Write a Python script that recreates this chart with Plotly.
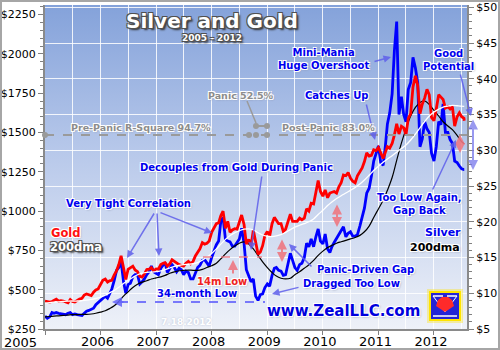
import base64
import plotly.graph_objects as go

# ---------------------------------------------------------------------------
# Data: semi-monthly closes (1st and 16th of each month), Jan 2005 - 7/18/2012
# ---------------------------------------------------------------------------
gold_2005 = [428, 424, 421, 425, 434, 440, 427, 430, 428, 421, 417, 437,
             425, 422, 432, 440, 445, 466, 473, 470, 462, 484, 498, 505]
gold_2006 = [530, 560, 568, 548, 556, 560, 594, 620, 660, 715, 640, 565,
             630, 640, 650, 625, 615, 585, 580, 600, 628, 630, 640, 620]
gold_2007 = [632, 630, 660, 668, 672, 650, 665, 690, 680, 665, 660, 655,
             650, 668, 680, 665, 680, 715, 740, 760, 800, 790, 795, 810]
gold_2008 = [865, 895, 920, 925, 970, 1000, 890, 935, 865, 880, 888, 885,
             935, 975, 915, 790, 820, 780, 880, 800, 725, 740, 780, 845]
gold_2009 = [870, 840, 920, 960, 940, 920, 920, 870, 885, 930, 980, 935,
             935, 935, 955, 945, 955, 1015, 1000, 1050, 1045, 1120, 1195, 1125]
gold_2010 = [1095, 1135, 1085, 1115, 1120, 1125, 1115, 1155, 1180, 1230, 1225, 1245,
             1210, 1190, 1180, 1225, 1250, 1275, 1315, 1370, 1350, 1355, 1390, 1385]
gold_2011 = [1405, 1365, 1335, 1375, 1410, 1400, 1430, 1485, 1555, 1490, 1540, 1530,
             1485, 1590, 1620, 1790, 1860, 1800, 1620, 1680, 1720, 1775, 1740, 1595]
gold_2012 = [1575, 1650, 1740, 1725, 1710, 1655, 1665, 1650, 1665, 1540, 1600, 1625,
             1600, 1590, 1575]

silver_2005 = [6.8, 6.5, 6.7, 7.3, 7.2, 7.3, 7.2, 7.1, 7.0, 7.0, 7.2, 7.3,
               7.0, 7.1, 7.0, 6.9, 6.9, 7.2, 7.5, 7.6, 7.7, 7.9, 8.4, 8.7]
silver_2006 = [9.0, 9.3, 9.6, 9.3, 10.0, 10.6, 11.8, 13.2, 13.6, 14.5, 11.6, 10.0,
               11.2, 11.4, 12.3, 12.6, 12.6, 11.3, 11.6, 12.0, 12.6, 13.0, 13.8, 13.0]
silver_2007 = [12.8, 12.6, 13.5, 13.9, 14.3, 12.9, 13.5, 14.0, 13.6, 13.0, 13.5, 13.3,
               12.6, 13.1, 12.9, 12.0, 12.0, 12.9, 13.6, 13.9, 14.6, 14.7, 14.3, 13.8]
silver_2008 = [15.0, 16.0, 16.8, 17.3, 20.0, 20.6, 17.5, 17.3, 17.2, 16.6, 16.6, 17.1,
               17.6, 19.1, 17.0, 13.3, 12.4, 11.6, 12.0, 9.6, 9.0, 9.8, 9.9, 10.8]
silver_2009 = [11.3, 11.0, 12.5, 13.5, 13.6, 13.2, 13.1, 12.5, 12.6, 14.0, 15.6, 14.6,
               13.6, 13.2, 14.0, 14.2, 15.0, 17.0, 16.5, 17.6, 16.5, 17.9, 19.0, 17.3]
silver_2010 = [16.9, 18.3, 16.2, 15.7, 16.5, 17.1, 17.7, 18.3, 18.8, 19.3, 17.9, 18.4,
               18.6, 18.0, 18.0, 18.2, 19.4, 20.6, 21.9, 24.0, 24.7, 26.4, 28.5, 29.5]
silver_2011 = [30.6, 28.3, 27.9, 30.7, 33.7, 35.2, 37.9, 44.0, 48.0, 35.0, 37.5, 35.0,
               34.0, 38.5, 39.5, 43.0, 41.5, 39.5, 30.5, 31.6, 34.0, 33.0, 32.5, 29.6]
silver_2012 = [28.5, 30.5, 34.0, 33.6, 36.5, 32.5, 32.5, 31.5, 31.0, 28.5, 28.3, 27.8,
               27.4, 27.3, 27.3]

# 200-day moving averages, start of each month (plus the final 7/18/2012 value)
gold_200dma = [415, 418, 421, 423, 425, 427, 428, 428, 430, 433, 438, 444,
               452, 465, 480, 495, 515, 540, 560, 578, 595, 605, 610, 612,
               615, 620, 628, 638, 648, 655, 660, 662, 665, 672, 688, 708,
               730, 760, 790, 820, 845, 862, 875, 885, 887, 880, 862, 848,
               840, 838, 842, 850, 865, 882, 898, 910, 920, 932, 950, 978,
               1005, 1035, 1058, 1080, 1098, 1115, 1132, 1150, 1172, 1198, 1228, 1258,
               1285, 1310, 1332, 1352, 1375, 1398, 1420, 1452, 1490, 1530, 1570, 1605,
               1630, 1648, 1662, 1668, 1672, 1670, 1668, 1666]
silver_200dma = [6.7, 6.75, 6.8, 6.85, 6.9, 6.95, 7.0, 7.0, 7.05, 7.05, 7.1, 7.2,
                 7.35, 7.55, 7.85, 8.25, 8.85, 9.6, 10.2, 10.8, 11.25, 11.55, 11.75, 12.0,
                 12.15, 12.3, 12.5, 12.8, 13.0, 13.15, 13.2, 13.25, 13.2, 13.2, 13.35, 13.6,
                 13.85, 14.2, 14.8, 15.5, 16.1, 16.6, 17.0, 17.2, 16.9, 16.2, 15.3, 14.4,
                 13.6, 12.9, 12.4, 12.1, 12.0, 12.1, 12.6, 13.0, 13.5, 14.0, 14.6, 15.3,
                 15.9, 16.4, 16.7, 17.0, 17.2, 17.4, 17.6, 17.8, 18.1, 18.6, 19.4, 20.6,
                 21.8, 23.0, 24.4, 26.2, 28.6, 31.0, 33.0, 34.8, 36.0, 36.7, 36.9, 36.4,
                 35.6, 34.8, 34.0, 33.4, 32.9, 32.1, 31.2, 30.9]

year_labels = ["2005", "2006", "2007", "2008", "2009", "2010", "2011", "2012"]

gold = (gold_2005 + gold_2006 + gold_2007 + gold_2008 + gold_2009
        + gold_2010 + gold_2011 + gold_2012)
silver = (silver_2005 + silver_2006 + silver_2007 + silver_2008 + silver_2009
          + silver_2010 + silver_2011 + silver_2012)

LAST_DAY = "2012-07-18"
price_dates, dma_dates = [], []
for yr in range(2005, 2013):
    for mo in range(1, 13):
        if yr == 2012 and mo > 7:
            break
        price_dates += [f"{yr}-{mo:02d}-01", f"{yr}-{mo:02d}-16"]
        dma_dates.append(f"{yr}-{mo:02d}-01")
price_dates.append(LAST_DAY)
dma_dates.append(LAST_DAY)

# ---------------------------------------------------------------------------
# Layout geometry (pixels) and helpers for decorations
# ---------------------------------------------------------------------------
W_IMG, H_IMG = 500, 350
PL, PR, PT, PB = 45, 467, 5, 329
PW, PH = PR - PL, PB - PT


def pp(px, py):
    """pixel position -> paper coordinates"""
    return (px - PL) / PW, (PB - py) / PH


FONT = "DejaVu Sans"
BLUE = "#0000ee"
HALO = ("-1px -1px 0 #ffffff, 1px -1px 0 #ffffff, -1px 1px 0 #ffffff, "
        "1px 1px 0 #ffffff, 1px 1px 2px #8890a8")
DARK_HALO = ("-1px -1px 0 #505050, 1px -1px 0 #505050, -1px 1px 0 #505050, "
             "1px 1px 0 #505050, 2px 2px 2px #303030")
ARROW = "rgba(95,95,235,0.85)"
PINK = "rgba(238,120,130,0.9)"
GRAYDOT = "#9a9a9a"

annotations, shapes = [], []


def label(text, px, py, size=10, color=BLUE, shadow=HALO, xanchor="center"):
    x, y = pp(px, py)
    annotations.append(dict(
        x=x, y=y, xref="paper", yref="paper", text=text, showarrow=False,
        xanchor=xanchor, yanchor="middle", align="center",
        font=dict(family=FONT, size=size, color=color, shadow=shadow)))


def arrow(tail, tip, color=ARROW, width=1.5, both=False, head=2):
    x, y = pp(*tip)
    annotations.append(dict(
        x=x, y=y, xref="paper", yref="paper", text="", showarrow=True,
        ax=tail[0] - tip[0], ay=tail[1] - tip[1], axref="pixel", ayref="pixel",
        arrowhead=head, startarrowhead=head, arrowsize=1, startarrowsize=1,
        arrowwidth=width, arrowcolor=color, standoff=0, startstandoff=0,
        arrowside="end+start" if both else "end"))


def line(p0, p1, color, width=1.5, dash="solid"):
    x0, y0 = pp(*p0)
    x1, y1 = pp(*p1)
    shapes.append(dict(type="line", xref="paper", yref="paper",
                       x0=x0, y0=y0, x1=x1, y1=y1,
                       line=dict(color=color, width=width, dash=dash)))


def dot(px, py, r=3, color=GRAYDOT):
    x0, y0 = pp(px - r, py + r)
    x1, y1 = pp(px + r, py - r)
    shapes.append(dict(type="circle", xref="paper", yref="paper",
                       x0=x0, y0=y0, x1=x1, y1=y1,
                       fillcolor=color, line=dict(width=0)))


def rect(p0, p1, fill, lcolor=None, lwidth=0, layer="above"):
    x0, y0 = pp(*p0)
    x1, y1 = pp(*p1)
    shapes.append(dict(type="rect", xref="paper", yref="paper", layer=layer,
                       x0=x0, y0=y0, x1=x1, y1=y1, fillcolor=fill,
                       line=dict(color=lcolor or fill, width=lwidth)))


def path(points, fill):
    d = "M " + " L ".join(f"{pp(*p)[0]:.4f},{pp(*p)[1]:.4f}" for p in points) + " Z"
    shapes.append(dict(type="path", xref="paper", yref="paper", path=d,
                       fillcolor=fill, line=dict(width=0)))


# ---------------------------------------------------------------------------
# Traces: silver on the right-hand axis, gold overlaid on the left-hand axis
# ---------------------------------------------------------------------------
fig = go.Figure()
fig.add_trace(go.Scatter(x=price_dates, y=silver, mode="lines", yaxis="y",
                         line=dict(color="#0000ff", width=2.8), name="Silver"))
fig.add_trace(go.Scatter(x=dma_dates, y=silver_200dma, mode="lines", yaxis="y",
                         line=dict(color="#000000", width=1.2, shape="spline"),
                         name="Silver 200dma"))
fig.add_trace(go.Scatter(x=price_dates, y=gold, mode="lines", yaxis="y2",
                         line=dict(color="#ff0000", width=2.8), name="Gold"))
fig.add_trace(go.Scatter(x=dma_dates, y=gold_200dma, mode="lines", yaxis="y2",
                         line=dict(color="#ffffff", width=1.3, shape="spline"),
                         name="Gold 200dma"))

# ---------------------------------------------------------------------------
# Decorations
# ---------------------------------------------------------------------------
# R-square legend lines
line((PL, 135), (PR, 135), GRAYDOT, 2, "dash")
line((256, 126), (267, 126), GRAYDOT, 2, "dash")
line((247, 101), (256, 123), GRAYDOT, 1.5)
for d in [(PL, 135), (249, 135), (256, 126), (267, 126), (256, 135), (267, 135)]:
    dot(*d)

# 14-month gold low and 34-month silver low markers
line((203, 257), (262, 257), PINK, 1.5, "dash")
arrow((233, 275), (233, 260), color=PINK, width=2)
line((119, 302), (265, 302), "rgba(100,100,250,0.85)", 2, "dash")
arrow((125, 302), (112, 302), color="rgba(100,100,250,0.85)", width=2)

# gap double-arrows
arrow((282, 238), (282, 262), color=PINK, width=2, both=True)
arrow((337, 203), (337, 227), color=PINK, width=2, both=True)
arrow((460, 133), (460, 153), color=PINK, width=2, both=True)
arrow((473, 118), (473, 170), color="rgba(120,120,235,0.75)", width=2, both=True)

# callout arrows
arrow((155, 212), (127, 258))
arrow((157, 212), (159, 256))
arrow((159, 212), (212, 233))
arrow((262, 175), (251, 250))
arrow((366, 103), (375, 140))
arrow((373, 62), (391, 57))
arrow((460, 73), (471, 116))
arrow((432, 191), (456, 140))
arrow((313, 268), (289, 244))
arrow((300, 287), (272, 294))

# logo
rect((427, 289), (463, 323), "rgba(255,225,0,0.35)")
rect((430, 292), (460, 320), "#2424d6", "#ffe400", 2)
line((433, 296), (443, 296), "#ffffff", 1.5)
line((447, 296), (457, 296), "#ffffff", 1.5)
line((433, 316), (457, 316), "#ffffff", 1.5)
line((433, 296), (445, 312), "#ffffff", 1)
line((457, 296), (445, 312), "#ffffff", 1)
path([(445, 312), (436, 306), (438, 300), (442, 297), (448, 297), (452, 300), (454, 306)],
     "#ff2a2a")

# outer frame
rect((1, 1), (W_IMG - 1, H_IMG - 1), "rgba(0,0,0,0)", "#a6a6a6", 2)

# text
label("<b>Silver and Gold</b>", 212, 21, size=20, color="#ffffff", shadow=DARK_HALO)
label("<b>2005 - 2012</b>", 212, 38, size=9, color="#ffffff", shadow=DARK_HALO)
label("<b>Panic 52.5%</b>", 241, 95, size=9.5, color="#8c8c8c")
label("<b>Pre-Panic R-Square 94.7%</b>", 141, 127, size=9.5, color="#8c8c8c")
label("<b>Post-Panic 83.0%</b>", 328, 127, size=9.5, color="#8c8c8c")
label("<b>Mini-Mania<br>Huge Overshoot</b>", 323, 59)
label("<b>Good<br>Potential</b>", 448, 60)
label("<b>Catches Up</b>", 336, 95)
label("<b>Decouples from Gold During Panic</b>", 236, 167)
label("<b>Very Tight Correlation</b>", 128, 203)
label("<b>Too Low Again,<br>Gap Back</b>", 419, 204)
label("<b>Gold</b>", 49, 233, size=11.5, color="#ff1010", xanchor="left")
label("<b>200dma</b>", 48, 247, size=11.5, color="#ffffff", shadow=DARK_HALO,
      xanchor="left")
label("<b>Silver</b>", 443, 232, size=11)
label("<b>200dma</b>", 435, 247, size=11, color="#000000")
label("<b>14m Low</b>", 222, 281, size=10, color="#ee2222")
label("<b>34-month Low</b>", 197, 293)
label("<b>Panic-Driven Gap</b>", 365, 269)
label("<b>Dragged Too Low</b>", 351, 283)
label("<b>www.ZealLLC.com</b>", 343, 311, size=15, color="#0000dd")
label("<b>7.18.2012</b>", 186, 322, size=9, color="#ffffff",
      shadow="0 0 2px rgba(140,150,180,0.6)")
# first year label sits flush with the left edge
label("2005", 20, 342, size=13, color="#000000", shadow="none")

# plot background gradient
svg = ('<svg xmlns="http://www.w3.org/2000/svg" width="10" height="100" '
       'preserveAspectRatio="none"><defs><linearGradient id="g" x1="0" y1="0" '
       'x2="0" y2="1"><stop offset="0" stop-color="#84a2da"/>'
       '<stop offset="0.45" stop-color="#b7c8ea"/>'
       '<stop offset="1" stop-color="#eef1f8"/></linearGradient></defs>'
       '<rect width="10" height="100" fill="url(#g)"/></svg>')
bg_src = "data:image/svg+xml;base64," + base64.b64encode(svg.encode()).decode()

year_ticks = [f"{y}-01-01" for y in year_labels]
half_ticks = [f"{y}-07-01" for y in year_labels]

AXIS_FONT = dict(family=FONT, size=11, color="#000000")

fig.update_layout(
    width=W_IMG, height=H_IMG,
    margin=dict(l=PL, r=W_IMG - PR, t=PT, b=H_IMG - PB, autoexpand=False),
    paper_bgcolor="#ffffff", plot_bgcolor="rgba(0,0,0,0)",
    showlegend=False,
    images=[dict(source=bg_src, xref="paper", yref="paper", x=0, y=1,
                 sizex=1, sizey=1, xanchor="left", yanchor="top",
                 sizing="stretch", layer="below")],
    xaxis=dict(
        type="date", range=["2005-01-01", "2012-08-05"],
        tickmode="array", tickvals=year_ticks,
        ticktext=[""] + year_labels[1:],
        tickfont=dict(family=FONT, size=13, color="#000000"),
        ticks="outside", ticklen=4, tickcolor="#808080",
        ticklabelstandoff=-5, ticklabelshift=-3,
        showgrid=True, gridcolor="rgba(255,255,255,0.85)", gridwidth=1,
        minor=dict(tickmode="array", tickvals=half_ticks, showgrid=True,
                   gridcolor="rgba(255,255,255,0.85)", gridwidth=1, ticks=""),
        showline=True, linecolor="#8a8a8a", linewidth=2, zeroline=False),
    yaxis=dict(
        side="right", range=[5, 50.33], tick0=5, dtick=5, tickprefix="$",
        tickfont=AXIS_FONT, ticks="outside", ticklen=5, tickcolor="#808080",
        minor=dict(dtick=1, ticks="outside", ticklen=3, tickcolor="#808080"),
        showgrid=True, gridcolor="rgba(255,255,255,0.85)", gridwidth=1,
        showline=True, linecolor="#8a8a8a", linewidth=2, zeroline=False),
    yaxis2=dict(
        side="left", overlaying="y", range=[250, 2311], tick0=250, dtick=250,
        tickprefix="$", tickformat="d",
        tickfont=AXIS_FONT, ticks="outside", ticklen=5, tickcolor="#808080",
        minor=dict(dtick=50, ticks="outside", ticklen=3, tickcolor="#808080"),
        showgrid=False, showline=True, linecolor="#8a8a8a", linewidth=2,
        zeroline=False),
    annotations=annotations,
    shapes=shapes,
)

fig.write_html("out.html")
